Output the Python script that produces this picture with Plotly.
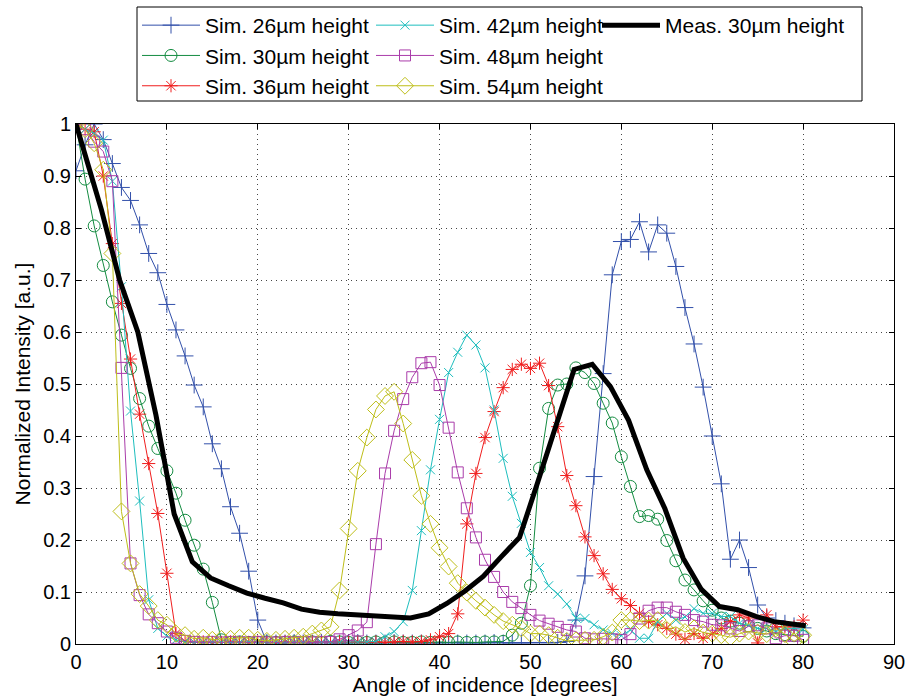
import plotly.graph_objects as go

angles = list(range(81))

sim26 = [0.91,0.96,1.0,0.97,0.924,0.878,0.853,0.806,0.751,0.714,
         0.653,0.604,0.554,0.498,0.456,0.385,0.337,0.264,0.213,0.14,
         0.046,0.003,0.002,0.002,0.003,0.002,0.002,0.003,0.002,0.002,
         0.002,0.003,0.002,0.002,0.002,0.003,0.002,0.002,0.002,0.002,
         0.002,0.003,0.002,0.002,0.002,0.002,0.003,0.002,0.002,0.002,
         0.002,0.003,0.002,0.003,0.005,0.046,0.131,0.322,0.52,0.71,
         0.774,0.778,0.812,0.754,0.806,0.79,0.726,0.647,0.577,0.494,
         0.4,0.308,0.163,0.2,0.147,0.075,0.05,0.045,0.04,0.035,0.031]

sim30 = [1.0,0.894,0.804,0.728,0.658,0.594,0.53,0.472,0.419,0.376,
         0.333,0.29,0.238,0.19,0.144,0.08,0.008,0.003,0.004,0.003,
         0.003,0.004,0.003,0.003,0.004,0.003,0.004,0.003,0.005,0.004,
         0.003,0.004,0.003,0.004,0.003,0.004,0.003,0.003,0.004,0.003,
         0.004,0.003,0.004,0.003,0.003,0.004,0.004,0.005,0.017,0.04,
         0.112,0.338,0.453,0.498,0.5,0.531,0.522,0.501,0.463,0.425,
         0.36,0.303,0.245,0.247,0.24,0.199,0.16,0.123,0.104,0.083,
         0.065,0.05,0.044,0.04,0.035,0.03,0.025,0.02,0.018,0.016,0.015]

sim36 = [1.0,0.99,0.985,0.9,0.77,0.655,0.548,0.442,0.347,0.251,
         0.136,0.02,0.005,0.003,0.004,0.003,0.003,0.004,0.003,0.003,
         0.004,0.003,0.003,0.004,0.003,0.003,0.004,0.003,0.003,0.004,
         0.003,0.004,0.003,0.004,0.003,0.004,0.005,0.004,0.005,0.008,
         0.014,0.02,0.058,0.231,0.328,0.397,0.447,0.493,0.528,0.538,
         0.53,0.54,0.497,0.418,0.324,0.266,0.206,0.17,0.135,0.105,
         0.087,0.074,0.059,0.043,0.037,0.03,0.019,0.009,0.02,0.011,
         0.02,0.03,0.043,0.056,0.05,0.002,0.056,0.033,0.033,0.033,0.046]

sim42 = [1.0,0.99,0.982,0.969,0.89,0.687,0.448,0.275,0.085,0.03,
         0.015,0.008,0.004,0.003,0.003,0.004,0.003,0.003,0.003,0.004,
         0.003,0.003,0.004,0.003,0.003,0.003,0.004,0.003,0.003,0.003,
         0.004,0.003,0.004,0.005,0.014,0.024,0.043,0.103,0.218,0.335,
         0.432,0.522,0.561,0.594,0.575,0.531,0.45,0.357,0.284,0.232,
         0.176,0.147,0.112,0.096,0.077,0.05,0.049,0.037,0.027,0.02,
         0.016,0.027,0.011,0.011,0.043,0.059,0.046,0.052,0.068,0.059,
         0.059,0.053,0.053,0.04,0.036,0.03,0.03,0.024,0.03,0.03,0.028]

sim48 = [1.0,0.99,0.966,0.947,0.89,0.531,0.155,0.094,0.057,0.04,
         0.024,0.012,0.006,0.004,0.003,0.004,0.003,0.004,0.003,0.003,
         0.004,0.003,0.003,0.004,0.003,0.004,0.003,0.004,0.004,0.009,
         0.017,0.026,0.042,0.192,0.328,0.41,0.471,0.513,0.54,0.542,
         0.498,0.416,0.33,0.261,0.205,0.162,0.129,0.1,0.081,0.069,
         0.056,0.045,0.039,0.033,0.027,0.024,0.011,0.009,0.01,0.009,
         0.008,0.019,0.049,0.064,0.07,0.07,0.062,0.056,0.046,0.043,
         0.037,0.036,0.03,0.025,0.034,0.036,0.03,0.011,0.016,0.016,0.008]

sim54 = [1.0,0.99,0.963,0.912,0.751,0.255,0.155,0.096,0.073,0.046,
         0.037,0.02,0.017,0.01,0.012,0.008,0.01,0.01,0.012,0.012,
         0.008,0.006,0.008,0.01,0.012,0.014,0.02,0.026,0.033,0.103,
         0.222,0.333,0.397,0.451,0.477,0.485,0.424,0.354,0.285,0.231,
         0.185,0.149,0.117,0.099,0.083,0.07,0.056,0.044,0.037,0.03,
         0.02,0.02,0.017,0.012,0.006,0.007,0.008,0.008,0.014,0.022,
         0.046,0.046,0.044,0.045,0.046,0.027,0.033,0.023,0.03,0.022,
         0.02,0.017,0.013,0.02,0.024,0.022,0.019,0.03,0.019,0.005,0.017]

meas_x = [0, 2.8, 4.8, 6.8, 8.8, 10.8, 12.8, 14.8, 16.8, 18.8, 20.8, 22.8,
          24.8, 26.8, 28.8, 30.8, 32.8, 34.8, 36.8, 38.8, 40.8, 42.8, 44.8,
          46.8, 48.8, 50.8, 52.8, 54.8, 56.8, 58.8, 60.8, 62.8, 64.8, 66.8,
          68.8, 70.8, 72.8, 74.8, 76.8, 78.8, 80.3]
meas_y = [1.0, 0.835, 0.70, 0.60, 0.44, 0.25, 0.158, 0.127, 0.112, 0.098,
          0.088, 0.079, 0.067, 0.061, 0.058, 0.056, 0.054, 0.051, 0.05, 0.058,
          0.078, 0.102, 0.13, 0.168, 0.205, 0.311, 0.42, 0.528, 0.538, 0.495,
          0.43, 0.335, 0.26, 0.165, 0.105, 0.072, 0.066, 0.053, 0.043, 0.038,
          0.035]

names = ["Sim. 26\u00b5m height", "Sim. 30\u00b5m height", "Sim. 36\u00b5m height",
         "Sim. 42\u00b5m height", "Sim. 48\u00b5m height", "Sim. 54\u00b5m height"]
colors = ["rgb(50,80,170)", "rgb(20,140,65)", "rgb(240,30,30)",
          "rgb(30,190,190)", "rgb(170,60,170)", "rgb(190,190,25)"]
symbols = ["cross-thin-open", "circle-open", "asterisk-open",
           "x-thin-open", "square-open", "diamond-open"]
sizes = [12, 12, 11, 9, 11, 13]
legend_ids = ["legend", "legend", "legend", "legend2", "legend2", "legend2"]
series = [sim26, sim30, sim36, sim42, sim48, sim54]

fig = go.Figure()
for ys, nm, col, sym, sz, lg in zip(series, names, colors, symbols, sizes, legend_ids):
    fig.add_trace(go.Scatter(
        x=angles, y=ys, name=nm, mode="lines+markers", legend=lg,
        line=dict(color=col, width=1),
        marker=dict(symbol=sym, size=sz, color=col, line=dict(color=col, width=1))))

fig.add_trace(go.Scatter(x=meas_x, y=meas_y, name="Meas. 30\u00b5m height",
                         mode="lines", legend="legend3",
                         line=dict(color="black", width=5)))

axis_common = dict(showline=True, linecolor="black", linewidth=1, mirror="ticks",
                   ticks="inside", ticklen=5, tickcolor="black",
                   showgrid=True, gridcolor="rgb(70,70,70)", griddash="1px,4px",
                   gridwidth=1, zeroline=False, automargin=False,
                   tickfont=dict(size=20, color="black"))

W, H = 907.0, 700.0
PW = 818.0
legend_common = dict(orientation="v", xref="paper", yref="container",
                     xanchor="left", yanchor="top", y=1.0 - 5 / H,
                     bgcolor="rgba(0,0,0,0)", borderwidth=0,
                     font=dict(size=21), itemwidth=58, traceorder="normal")

fig.update_layout(
    width=907, height=700,
    margin=dict(l=76, r=13, t=124, b=56),
    paper_bgcolor="white", plot_bgcolor="white",
    font=dict(family="Liberation Sans, Arial, sans-serif", color="black"),
    xaxis=dict(range=[0, 90], dtick=10, tick0=0,
               title=dict(text="Angle of incidence [degrees]", font=dict(size=21), standoff=2),
               **axis_common),
    yaxis=dict(range=[0, 1], dtick=0.1, tick0=0,
               title=dict(text="Normalized Intensity [a.u.]", font=dict(size=21), standoff=6),
               **axis_common),
    shapes=[dict(type="rect", xref="paper", yref="paper",
                 x0=(137 - 76) / PW, x1=(862 - 76) / PW,
                 y0=(644 - 101) / 520.0, y1=(644 - 7) / 520.0,
                 line=dict(color="black", width=1), fillcolor="white", layer="above")],
    legend=dict(x=(137 - 76) / PW, **legend_common),
    legend2=dict(x=(371 - 76) / PW, **legend_common),
    legend3=dict(x=(597 - 76) / PW, **legend_common),
    showlegend=True,
)

fig.write_html("out.html")
